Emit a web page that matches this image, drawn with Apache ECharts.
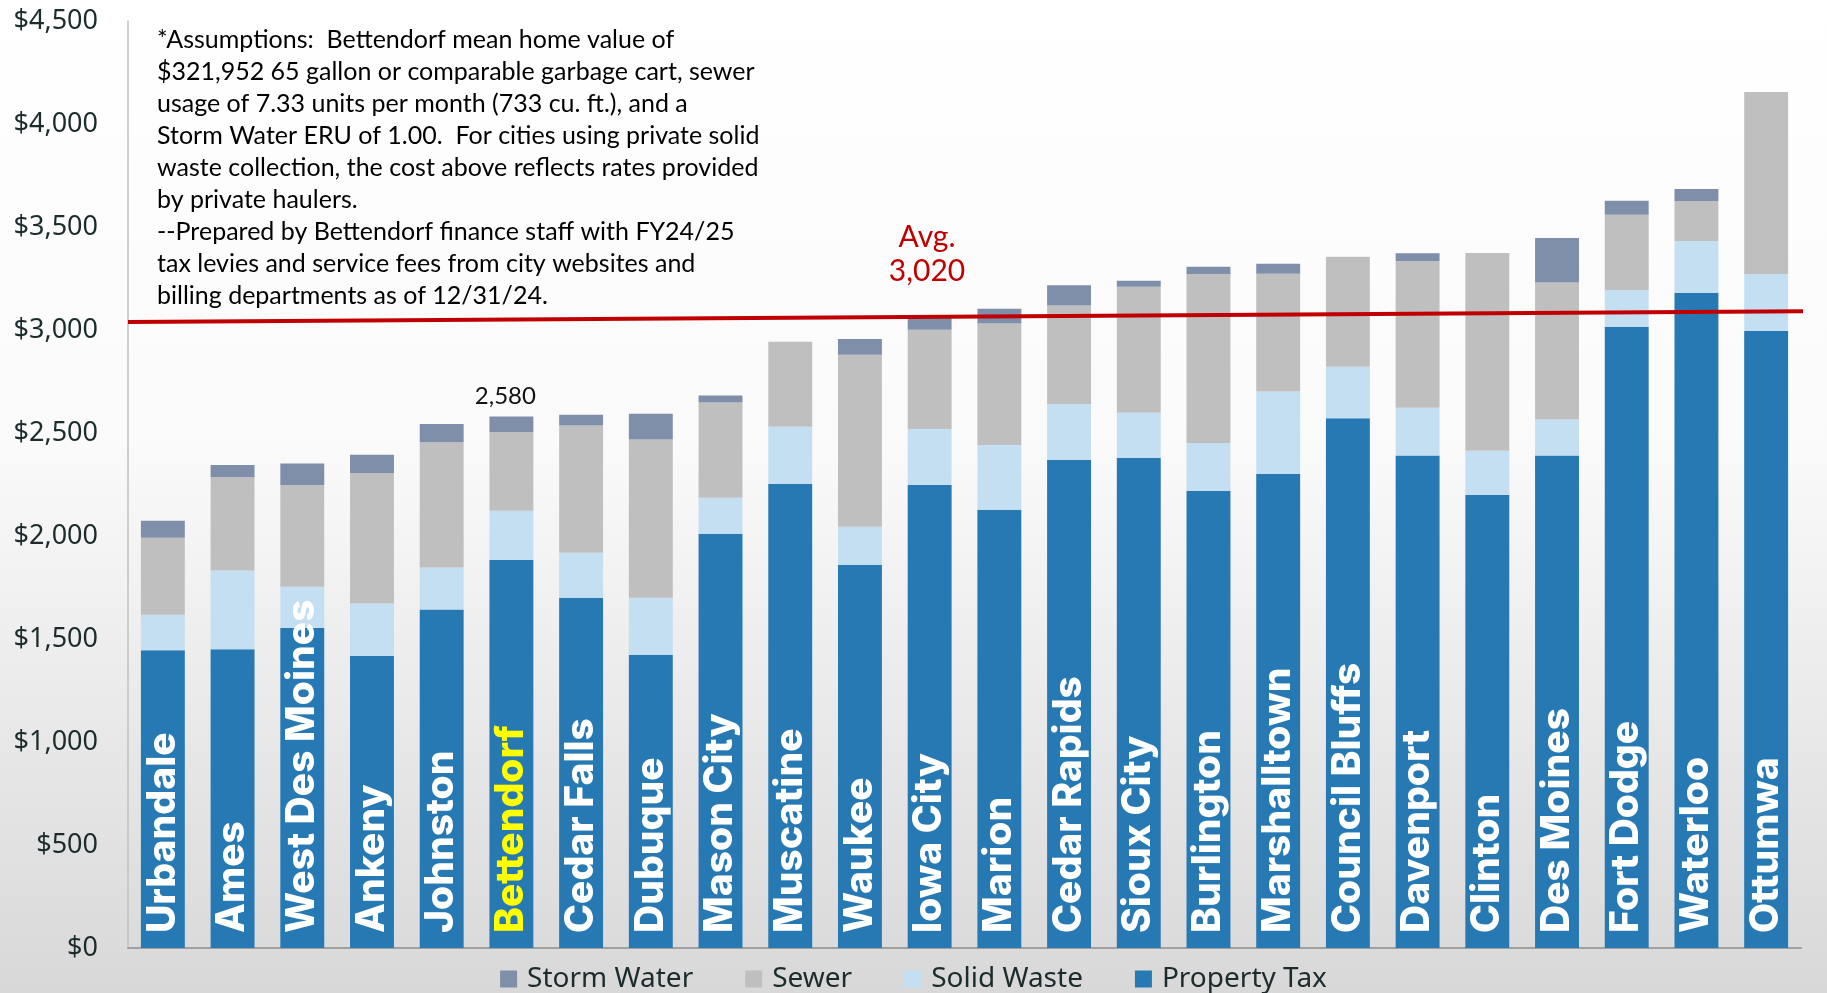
<!DOCTYPE html>
<html>
<head>
<meta charset="utf-8">
<script src="https://cdn.jsdelivr.net/npm/echarts@6/dist/echarts.min.js"></script>
<style>
  html, body { margin: 0; padding: 0; width: 1827px; height: 993px; overflow: hidden; }
  #chart { width: 1827px; height: 993px; }
</style>
</head>
<body>
<div id="chart"></div>
<script>
// ---- DATA ----
const cities = ['Urbandale','Ames','West Des Moines','Ankeny','Johnston','Bettendorf','Cedar Falls','Dubuque','Mason City','Muscatine','Waukee','Iowa City','Marion','Cedar Rapids','Sioux City','Burlington','Marshalltown','Council Bluffs','Davenport','Clinton','Des Moines','Fort Dodge','Waterloo','Ottumwa'];
const propertyTax = [1445,1450,1554,1418,1643,1883,1700,1423,2011,2253,1860,2248,2128,2369,2379,2220,2301,2572,2391,2199,2391,3016,3181,2995];
const solidWaste  = [173,383,200,254,204,240,219,277,175,277,185,272,314,272,219,232,401,249,232,215,175,178,251,277];
const sewer       = [374,452,494,634,608,382,617,768,462,413,835,481,590,478,612,820,571,535,712,960,664,365,194,883];
const stormWater  = [82,60,104,89,89,75,53,126,34,0,76,69,71,98,29,35,48,0,38,0,217,68,59,0];
const yTicks = [0,500,1000,1500,2000,2500,3000,3500,4000,4500];
const highlightCity = 'Bettendorf';
const avgValue = 3020;
const avgLineX = [0, 1.01];
const avgLineY = [3039, 3092];
const legendNames = ['Storm Water','Sewer','Solid Waste','Property Tax'];
const noteLines = [
  '*Assumptions:  Bettendorf mean home value of',
  '$321,952 65 gallon or comparable garbage cart, sewer',
  'usage of 7.33 units per month (733 cu. ft.), and a',
  'Storm Water ERU of 1.00.  For cities using private solid',
  'waste collection, the cost above reflects rates provided',
  'by private haulers.',
  '--Prepared by Bettendorf finance staff with FY24/25',
  'tax levies and service fees from city websites and',
  'billing departments as of 12/31/24.'
];

// ---- CHART ----
const chart = echarts.init(document.getElementById('chart'), null, { renderer: 'canvas' });
const fmt = v => v.toLocaleString('en-US');
const hi = cities.indexOf(highlightCity);
const hiTotal = propertyTax[hi] + solidWaste[hi] + sewer[hi] + stormWater[hi];

const colors = { pt: '#2779B3', sw: '#C3DFF1', sewer: '#BFBFBF', storm: '#7F8FA9' };

const ptData = propertyTax.map((v, i) => ({
  value: v,
  label: { color: cities[i] === highlightCity ? '#FFFF00' : '#FFFFFF' }
}));
const stormData = stormWater.map((v, i) => i === hi ? {
  value: v,
  label: { show: true, position: 'top', distance: 8, offset: [-6, 0],
           formatter: () => fmt(Math.round(hiTotal / 10) * 10),
           color: '#111', fontFamily: 'Lato', fontSize: 24 }
} : v);

const option = {
  backgroundColor: new echarts.graphic.LinearGradient(0, 0, 0, 1, [
    { offset: 0, color: '#ffffff' },
    { offset: 0.45, color: '#fafafa' },
    { offset: 1, color: '#d8d8d8' }
  ]),
  animation: false,
  grid: { left: 128, right: 26, top: 21, bottom: 45, containLabel: false },
  legend: {
    data: legendNames,
    left: 'center',
    top: 960,
    itemWidth: 17,
    itemHeight: 17,
    itemGap: 52,
    icon: 'rect',
    textStyle: { fontFamily: 'Noto Sans', fontSize: 28, color: '#1c2b2b', padding: [0, 0, 0, 5] },
  },
  xAxis: [{
    type: 'category',
    data: cities,
    axisLine: { show: true, lineStyle: { color: '#a0a0a0', width: 2 } },
    axisTick: { show: false },
    axisLabel: { show: false }
  }, {
    type: 'value', min: 0, max: 1, show: false
  }],
  yAxis: {
    type: 'value',
    min: 0, max: 4500, interval: 500,
    axisLine: { show: true, lineStyle: { color: '#c0c0c0', width: 1.5 } },
    axisTick: { show: false },
    splitLine: { show: false },
    axisLabel: {
      margin: 30,
      fontFamily: 'Noto Sans', fontSize: 27, color: '#1c2b2b',
      formatter: v => yTicks.includes(v) ? '$' + fmt(v) : ''
    }
  },
  series: [
    {
      name: 'Property Tax', type: 'bar', stack: 'total', barWidth: '63%',
      itemStyle: { color: colors.pt },
      label: {
        show: true, position: 'insideBottom', distance: 15, rotate: 90,
        align: 'left', verticalAlign: 'middle',
        formatter: p => p.name,
        fontFamily: 'Inter', fontWeight: 800, fontSize: 39
      },
      data: ptData
    },
    { name: 'Solid Waste', type: 'bar', stack: 'total', itemStyle: { color: colors.sw }, data: solidWaste },
    { name: 'Sewer', type: 'bar', stack: 'total', itemStyle: { color: colors.sewer }, data: sewer },
    { name: 'Storm Water', type: 'bar', stack: 'total', itemStyle: { color: colors.storm }, data: stormData },
    {
      name: 'Average', type: 'line', xAxisIndex: 1, z: 10, clip: false,
      symbol: 'none', silent: true,
      lineStyle: { color: '#C00000', width: 4 },
      data: avgLineX.map((x, i) => [x, avgLineY[i]])
    }
  ],
  graphic: [
    {
      type: 'text', left: 157, top: 24, silent: true,
      style: { text: noteLines.join('\n'), font: '25px Lato', lineHeight: 32, fill: '#000' }
    },
    {
      type: 'text', x: 927, y: 222, silent: true,
      style: { text: 'Avg.', font: '30px Lato', fill: '#C00000', align: 'center', verticalAlign: 'top' }
    },
    {
      type: 'text', x: 927, y: 256, silent: true,
      style: { text: fmt(avgValue), font: '30px Lato', fill: '#C00000', align: 'center', verticalAlign: 'top' }
    }
  ]
};
chart.setOption(option);
</script>
</body>
</html>
